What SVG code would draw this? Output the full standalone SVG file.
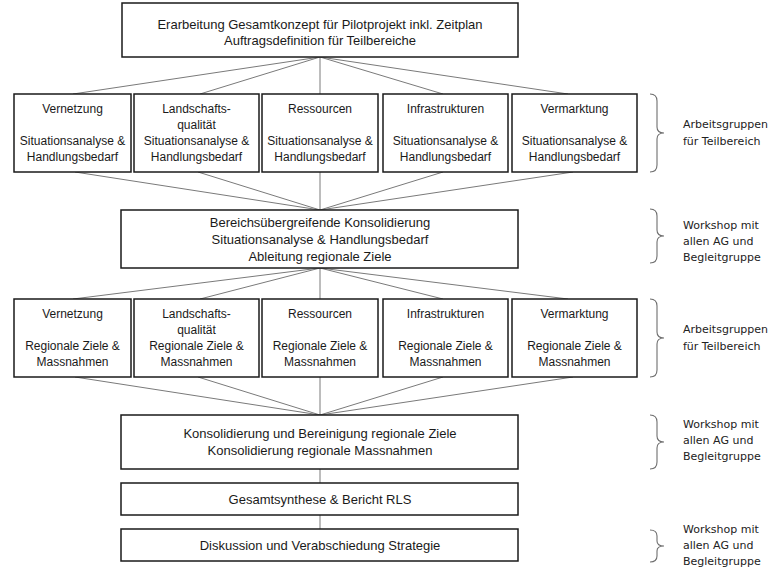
<svg xmlns="http://www.w3.org/2000/svg" width="783" height="569" viewBox="0 0 783 569">
<style>
.box{fill:#fff;stroke:#1a1a1a;stroke-width:1.5}
.t{font-family:"Liberation Sans",Arial,sans-serif;font-size:12px;fill:#1a1a1a;text-anchor:middle}
.w{font-size:13px}
.c{stroke:#7a7a7a;stroke-width:1;fill:none}
.br{stroke:#6e6e6e;stroke-width:1.1;fill:none}
.lab{font-family:"DejaVu Sans",Verdana,sans-serif;font-size:11px;fill:#222}
</style>
<rect width="783" height="569" fill="#fff"/>
<g id="connectors">
<path class="c" d="M320,57 L73,94 M320,57 L200,94 M320,57 L320,94 M320,57 L443,94 M320,57 L568,94"/>
<path class="c" d="M75,172 L320,210 M198,172 L320,210 M320,172 L320,210 M443,172 L320,210 M573,172 L320,210"/>
<path class="c" d="M320,268 L73,299 M320,268 L200,299 M320,268 L320,299 M320,268 L443,299 M320,268 L568,299"/>
<path class="c" d="M75,377 L320,415 M198,377 L320,415 M320,377 L320,415 M443,377 L320,415 M573,377 L320,415"/>
<path class="c" d="M320,469 L320,483 M320,515 L320,529"/>
</g>
<g id="n-top"><rect class="box" x="122" y="3" width="396" height="54"/>
<text class="t w" x="320" y="28.5">Erarbeitung Gesamtkonzept für Pilotprojekt inkl. Zeitplan</text>
<text class="t w" x="320" y="45">Auftragsdefinition für Teilbereiche</text></g>
<g id="n-a1"><rect class="box" x="14" y="94" width="117" height="78"/>
<text class="t" x="72.5" y="113">Vernetzung</text><text class="t" x="72.5" y="145">Situationsanalyse &amp;</text><text class="t" x="72.5" y="161">Handlungsbedarf</text></g>
<g id="n-a2"><rect class="box" x="134" y="94" width="125" height="78"/>
<text class="t" x="196.5" y="113">Landschafts-</text><text class="t" x="196.5" y="129">qualität</text><text class="t" x="196.5" y="145">Situationsanalyse &amp;</text><text class="t" x="196.5" y="161">Handlungsbedarf</text></g>
<g id="n-a3"><rect class="box" x="262" y="94" width="116" height="78"/>
<text class="t" x="320" y="113">Ressourcen</text><text class="t" x="320" y="145">Situationsanalyse &amp;</text><text class="t" x="320" y="161">Handlungsbedarf</text></g>
<g id="n-a4"><rect class="box" x="383" y="94" width="125" height="78"/>
<text class="t" x="445.5" y="113">Infrastrukturen</text><text class="t" x="445.5" y="145">Situationsanalyse &amp;</text><text class="t" x="445.5" y="161">Handlungsbedarf</text></g>
<g id="n-a5"><rect class="box" x="512" y="94" width="125" height="78"/>
<text class="t" x="574.5" y="113">Vermarktung</text><text class="t" x="574.5" y="145">Situationsanalyse &amp;</text><text class="t" x="574.5" y="161">Handlungsbedarf</text></g>
<g id="n-mid"><rect class="box" x="121" y="210" width="397" height="58"/>
<text class="t w" x="320" y="226.5">Bereichsübergreifende Konsolidierung</text>
<text class="t w" x="320" y="243.5">Situationsanalyse &amp; Handlungsbedarf</text>
<text class="t w" x="320" y="260.5">Ableitung regionale Ziele</text></g>
<g id="n-b1"><rect class="box" x="14" y="299" width="117" height="78"/>
<text class="t" x="72.5" y="318">Vernetzung</text><text class="t" x="72.5" y="350">Regionale Ziele &amp;</text><text class="t" x="72.5" y="366">Massnahmen</text></g>
<g id="n-b2"><rect class="box" x="134" y="299" width="125" height="78"/>
<text class="t" x="196.5" y="318">Landschafts-</text><text class="t" x="196.5" y="334">qualität</text><text class="t" x="196.5" y="350">Regionale Ziele &amp;</text><text class="t" x="196.5" y="366">Massnahmen</text></g>
<g id="n-b3"><rect class="box" x="262" y="299" width="116" height="78"/>
<text class="t" x="320" y="318">Ressourcen</text><text class="t" x="320" y="350">Regionale Ziele &amp;</text><text class="t" x="320" y="366">Massnahmen</text></g>
<g id="n-b4"><rect class="box" x="383" y="299" width="125" height="78"/>
<text class="t" x="445.5" y="318">Infrastrukturen</text><text class="t" x="445.5" y="350">Regionale Ziele &amp;</text><text class="t" x="445.5" y="366">Massnahmen</text></g>
<g id="n-b5"><rect class="box" x="512" y="299" width="125" height="78"/>
<text class="t" x="574.5" y="318">Vermarktung</text><text class="t" x="574.5" y="350">Regionale Ziele &amp;</text><text class="t" x="574.5" y="366">Massnahmen</text></g>
<g id="n-kons"><rect class="box" x="121" y="415" width="397" height="54"/>
<text class="t w" x="320" y="438">Konsolidierung und Bereinigung regionale Ziele</text>
<text class="t w" x="320" y="455">Konsolidierung regionale Massnahmen</text></g>
<g id="n-synth"><rect class="box" x="121" y="483" width="397" height="32"/>
<text class="t w" x="320" y="503.5">Gesamtsynthese &amp; Bericht RLS</text></g>
<g id="n-disk"><rect class="box" x="121" y="529" width="397" height="32"/>
<text class="t w" x="320" y="549.5">Diskussion und Verabschiedung Strategie</text></g>
<g id="braces">
<path class="br" d="M650,94 Q657,94 657,101 L657,127 Q657,133 664,133 Q657,133 657,139 L657,165 Q657,172 650,172"/>
<path class="br" d="M650,209 Q657,209 657,216 L657,230 Q657,236 664,236 Q657,236 657,242 L657,256 Q657,263 650,263"/>
<path class="br" d="M650,299 Q657,299 657,306 L657,332 Q657,338 664,338 Q657,338 657,344 L657,370 Q657,377 650,377"/>
<path class="br" d="M650,415 Q657,415 657,422 L657,436 Q657,442 664,442 Q657,442 657,448 L657,462 Q657,469 650,469"/>
<path class="br" d="M650,530 Q657,530 657,536 L657,541 Q657,546 664,546 Q657,546 657,551 L657,556 Q657,562 650,562"/>
</g>
<g id="labels">
<text class="lab" x="683" y="128">Arbeitsgruppen</text><text class="lab" x="683" y="145">für Teilbereich</text>
<text class="lab" x="683" y="229">Workshop mit</text><text class="lab" x="683" y="245">allen AG und</text><text class="lab" x="683" y="261">Begleitgruppe</text>
<text class="lab" x="683" y="333">Arbeitsgruppen</text><text class="lab" x="683" y="350">für Teilbereich</text>
<text class="lab" x="683" y="428">Workshop mit</text><text class="lab" x="683" y="444">allen AG und</text><text class="lab" x="683" y="460">Begleitgruppe</text>
<text class="lab" x="683" y="533">Workshop mit</text><text class="lab" x="683" y="549">allen AG und</text><text class="lab" x="683" y="565">Begleitgruppe</text>
</g>
</svg>
